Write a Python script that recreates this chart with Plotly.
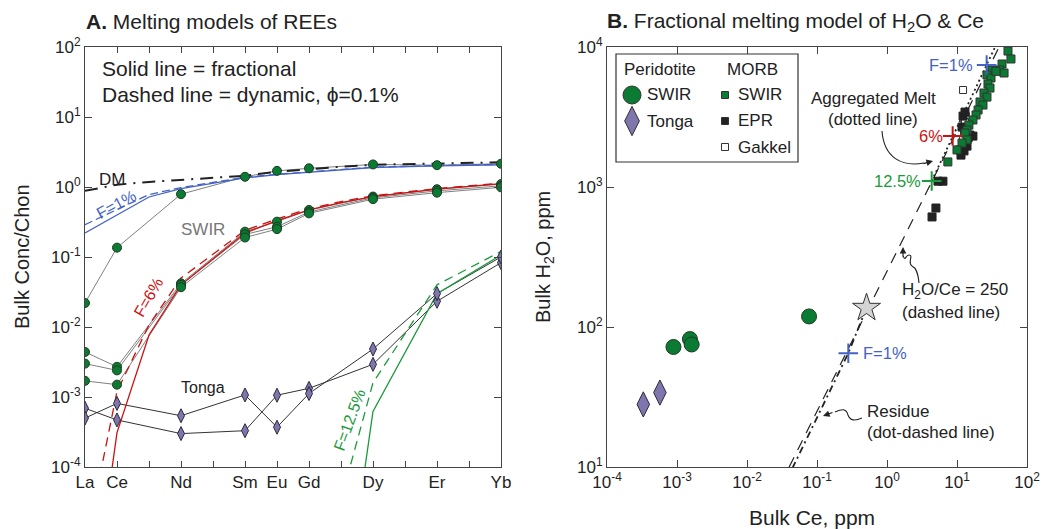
import plotly.graph_objects as go

# ---------------- Panel A data ----------------
ree_labels = ["La", "Ce", "Nd", "Sm", "Eu", "Gd", "Dy", "Er", "Yb"]
ree_z = [57, 58, 60, 62, 63, 64, 66, 68, 70]
all_z = list(range(57, 71))
all_lab = ["La", "Ce", "", "Nd", "", "Sm", "Eu", "Gd", "", "Dy", "", "Er", "", "Yb"]
model_z = [57, 58, 59, 60, 62, 63, 64, 65, 66, 68, 70]

dm_line = [0.88, 1.08, 1.18, 1.26, 1.45, 1.65, 1.8, 1.95, 2.08, 2.18, 2.25]
f1_frac = [0.22, 0.40, 0.72, 0.95, 1.35, 1.5, 1.62, 1.75, 1.9, 2.0, 2.08]
f1_dyn = [0.29, 0.48, 0.78, 0.98, 1.38, 1.52, 1.64, 1.77, 1.92, 2.02, 2.1]
f6_frac = [1.6e-7, 3.1e-4, 7.7e-3, 0.040, 0.22, 0.33, 0.47, 0.60, 0.73, 0.93, 1.12]
f6_dyn = [6.7e-6, 1.2e-3, 1.07e-2, 0.050, 0.24, 0.35, 0.49, 0.62, 0.75, 0.95, 1.14]
f125_frac = [1e-12, 1e-12, 1e-12, 1e-12, 1e-11, 1e-10, 1e-9, 4e-7, 6.2e-4, 0.030, 0.107]
f125_dyn = [1e-12, 1e-12, 1e-12, 1e-12, 1e-10, 1e-9, 1e-8, 3.4e-5, 1.6e-3, 0.040, 0.12]

swir_pd = [
    [0.022, 0.136, 0.79, 1.40, 1.70, 1.85, 2.10, 2.05, 2.15],
    [4.4e-3, 2.7e-3, 0.042, 0.23, 0.32, 0.47, 0.73, 0.93, 1.10],
    [3.0e-3, 2.4e-3, 0.040, 0.21, 0.27, 0.44, 0.70, 0.88, 1.04],
    [1.7e-3, 1.5e-3, 0.037, 0.19, 0.25, 0.42, 0.67, 0.83, 0.99],
]
tonga_pd = [
    [6.9e-4, 4.7e-4, 3.0e-4, 3.3e-4, 1.06e-3, 1.33e-3, 2.93e-3, 0.0233, 0.083],
    [5.0e-4, 8.1e-4, 5.4e-4, 1.07e-3, 3.7e-4, 1.12e-3, 4.85e-3, 0.030, 0.10],
]

# ---------------- Panel B data ----------------
swir_per_ce = [8.9e-4, 1.53e-3, 1.62e-3, 0.077]
swir_per_h2o = [72, 82, 75, 119]
tonga_per_ce = [3.3e-4, 5.7e-4]
tonga_per_h2o = [28, 34]
source_ce = [0.51]
source_h2o = [137]

ratio_ce = [0.04, 40]
ratio_h2o = [10, 10000]
agg_ce = [4.35, 8.67, 26.5, 40]
agg_h2o = [1104, 2311, 7440, 11500]
res_ce = [0.51, 0.28, 0.0454, 0.02]
res_h2o = [137, 65, 10, 4.3]

agg_f1 = ([26.5], [7440])
agg_f6 = ([8.67], [2311])
agg_f125 = ([4.35], [1104])
res_f1 = ([0.28], [65])

morb_swir_ce = [53.5, 59, 44, 41, 47, 31.6, 26.8, 30.6, 27.7, 29.6, 24.3, 26.8, 21.3, 23.5,
                20, 18.7, 16.9, 14.8, 13.9, 13.0, 13.9, 11.8, 10, 7.4, 36]
morb_swir_h2o = [9360, 8210, 7560, 6850, 6520, 6850, 6310, 6010, 5440, 5090, 4690, 4390, 4050, 3850,
                 3550, 3270, 3010, 2770, 2550, 2430, 2170, 2060, 1840, 1510, 6700]
morb_epr_ce = [4.4, 5.0, 5.35, 6.3, 11.0, 12.6, 13.9, 16.9, 14.4, 12.2, 13.0, 11.8, 15.3, 11.4]
morb_epr_h2o = [611, 708, 1100, 1100, 1840, 1810, 1960, 2310, 2240, 3210, 3430, 2680, 2350, 1690]
morb_gak_ce = [12.2, 13.4, 13.0, 13.9, 12.6, 12.2, 13.4]
morb_gak_h2o = [4930, 3210, 2910, 2680, 2510, 2170, 1960]

# ---------------- styling ----------------
W, H = 1055, 529
FONT = "Liberation Sans, Arial, Helvetica, sans-serif"
TXT = "#222222"
AX = "#444444"
GREEN_PT = "#0b7a32"
PURPLE = "#7e76ad"
BLUE = "#4463c4"
RED = "#cc1111"
GREEN_LN = "#1a9a3a"


def px(x):
    return x / W


def py(y):
    return 1 - y / H


fig = go.Figure()

for s in swir_pd:
    fig.add_trace(go.Scatter(x=ree_z, y=s, mode="lines", line=dict(color="#808080", width=1),
                             xaxis="x", yaxis="y", showlegend=False))
for s in tonga_pd:
    fig.add_trace(go.Scatter(x=ree_z, y=s, mode="lines", line=dict(color="#333333", width=1),
                             xaxis="x", yaxis="y", showlegend=False))


def model(vals, color, dash, width=1.3):
    fig.add_trace(go.Scatter(x=model_z, y=vals, mode="lines",
                             line=dict(color=color, width=width, dash=dash),
                             xaxis="x", yaxis="y", showlegend=False))


model(f1_dyn, BLUE, "8px,4px")
model(f1_frac, BLUE, "solid")
model(f6_dyn, RED, "9px,6px")
model(f6_frac, RED, "solid")
model(f125_dyn, GREEN_LN, "9px,6px")
model(f125_frac, GREEN_LN, "solid")
model(dm_line, "#222222", "13px,7px,2px,7px", 2)

for s in swir_pd:
    fig.add_trace(go.Scatter(x=ree_z, y=s, mode="markers",
                             marker=dict(color=GREEN_PT, size=9, line=dict(color="#1d3b22", width=1)),
                             xaxis="x", yaxis="y", showlegend=False))
for s in tonga_pd:
    fig.add_trace(go.Scatter(x=ree_z, y=s, mode="markers",
                             marker=dict(color=PURPLE, size=10, symbol="diamond-tall",
                                         line=dict(color="#2a2a3a", width=1)),
                             xaxis="x", yaxis="y", showlegend=False))

# --- panel B
fig.add_trace(go.Scatter(x=ratio_ce, y=ratio_h2o, mode="lines",
                         line=dict(color="#222222", width=1.2, dash="11px,8px"),
                         xaxis="x2", yaxis="y2", showlegend=False))
fig.add_trace(go.Scatter(x=agg_ce, y=agg_h2o, mode="lines",
                         line=dict(color="#222222", width=1.8, dash="2px,3px"),
                         xaxis="x2", yaxis="y2", showlegend=False))
fig.add_trace(go.Scatter(x=res_ce, y=res_h2o, mode="lines",
                         line=dict(color="#222222", width=1.8, dash="7px,4px,2px,4px"),
                         xaxis="x2", yaxis="y2", showlegend=False))

fig.add_trace(go.Scatter(x=morb_gak_ce, y=morb_gak_h2o, mode="markers",
                         marker=dict(color="white", size=7, symbol="square", line=dict(color="#333", width=1)),
                         xaxis="x2", yaxis="y2", showlegend=False))
fig.add_trace(go.Scatter(x=morb_epr_ce, y=morb_epr_h2o, mode="markers",
                         marker=dict(color="#222222", size=8, symbol="square", line=dict(color="#222", width=1)),
                         xaxis="x2", yaxis="y2", showlegend=False))
fig.add_trace(go.Scatter(x=morb_swir_ce, y=morb_swir_h2o, mode="markers",
                         marker=dict(color=GREEN_PT, size=8, symbol="square", line=dict(color="#333", width=1)),
                         xaxis="x2", yaxis="y2", showlegend=False))

fig.add_trace(go.Scatter(x=swir_per_ce, y=swir_per_h2o, mode="markers",
                         marker=dict(color=GREEN_PT, size=15, line=dict(color="#1d3b22", width=1)),
                         xaxis="x2", yaxis="y2", showlegend=False))
fig.add_trace(go.Scatter(x=tonga_per_ce, y=tonga_per_h2o, mode="markers",
                         marker=dict(color=PURPLE, size=18, symbol="diamond-tall", line=dict(color="#2a2a3a", width=1)),
                         xaxis="x2", yaxis="y2", showlegend=False))
fig.add_trace(go.Scatter(x=source_ce, y=source_h2o, mode="markers",
                         marker=dict(color="#d4d4d4", size=21, symbol="star", line=dict(color="#333", width=1)),
                         xaxis="x2", yaxis="y2", showlegend=False))

for (cx, cy), col in [(agg_f1, BLUE), (agg_f6, RED), (agg_f125, GREEN_LN), (res_f1, BLUE)]:
    fig.add_trace(go.Scatter(x=cx, y=cy, mode="markers",
                             marker=dict(symbol="cross-thin", size=14, line=dict(color=col, width=2)),
                             xaxis="x2", yaxis="y2", showlegend=False))

legend_glyphs = [
    (632, 95, "circle", 18, GREEN_PT),
    (632, 121, "diamond-tall", 21, PURPLE),
    (725, 95, "square", 7, GREEN_PT),
    (725, 121, "square", 7, "#222222"),
    (725, 147, "square", 7, "white"),
]
for gx, gy, sym, sz, col in legend_glyphs:
    fig.add_trace(go.Scatter(x=[gx], y=[gy], mode="markers",
                             marker=dict(color=col, size=sz, symbol=sym, line=dict(color="#333", width=1)),
                             xaxis="x3", yaxis="y3", showlegend=False, cliponaxis=False))


def decades(lo, hi):
    return [10.0 ** e for e in range(lo, hi + 1)], [f"10<sup>{e}</sup>" for e in range(lo, hi + 1)]


def minors(lo, hi):
    return [k * 10.0 ** e for e in range(lo, hi) for k in range(2, 10)]


common = dict(showline=True, linecolor=AX, linewidth=1, mirror="ticks", ticks="inside",
              tickcolor=AX, ticklen=7, showgrid=False, zeroline=False, automargin=False,
              tickfont=dict(family=FONT, size=17, color=TXT))
minor_ax = dict(showline=False, mirror="ticks", ticks="inside", tickcolor=AX, ticklen=3.5,
                showgrid=False, zeroline=False, automargin=False, showticklabels=False,
                tickmode="array", type="log")

ya_v, ya_t = decades(-4, 2)
xb_v, xb_t = decades(-4, 2)
yb_v, yb_t = decades(1, 4)

fig.update_layout(
    width=W, height=H, margin=dict(l=0, r=0, t=0, b=0, pad=0, autoexpand=False),
    paper_bgcolor="white", plot_bgcolor="rgba(0,0,0,0)",
    font=dict(family=FONT, color=TXT),
    xaxis=dict(domain=[px(85), px(501)], range=[57, 70], tickmode="array",
               tickvals=all_z, ticktext=all_lab, anchor="y",
               **{**common, "ticklen": 6}),
    yaxis=dict(domain=[py(467), py(47)], type="log", range=[-4, 2], tickmode="array",
               tickvals=ya_v, ticktext=ya_t, anchor="x", **common),
    xaxis2=dict(domain=[px(607), px(1027)], type="log", range=[-4, 2], tickmode="array",
                tickvals=xb_v, ticktext=xb_t, anchor="y2", **common),
    yaxis2=dict(domain=[py(467), py(47)], type="log", range=[1, 4], tickmode="array",
                tickvals=yb_v, ticktext=yb_t, anchor="x2", **common),
    xaxis3=dict(domain=[0, 1], range=[0, W], visible=False, anchor="y3", automargin=False),
    yaxis3=dict(domain=[0, 1], range=[H, 0], visible=False, anchor="x3", automargin=False),
    yaxis4=dict(overlaying="y", anchor="x", side="left", range=[-4, 2],
                tickvals=minors(-4, 2), **minor_ax),
    xaxis5=dict(overlaying="x2", anchor="y2", side="bottom", range=[-4, 2],
                tickvals=minors(-4, 2), **minor_ax),
    yaxis6=dict(overlaying="y2", anchor="x2", side="left", range=[1, 4],
                tickvals=minors(1, 4), **minor_ax),
)

ann = []


def text(x, y, s, size=17, color=TXT, xanchor="center", angle=0):
    ann.append(dict(x=px(x), y=py(y), xref="paper", yref="paper", text=s, showarrow=False,
                    xanchor=xanchor, yanchor="middle", textangle=angle,
                    font=dict(family=FONT, size=size, color=color)))


text(84, 22, "<b>A.</b> Melting models of REEs", 21, xanchor="left")
text(605, 22, "<b>B.</b> Fractional melting model of H<sub>2</sub>O &amp; Ce", 21, xanchor="left")
text(100, 68, "Solid line = fractional", 21, xanchor="left")
text(100, 94, "Dashed line = dynamic, ϕ=0.1%", 21, xanchor="left")
text(22, 257, "Bulk Conc/Chon", 20, angle=-90)
text(544, 257, "Bulk H<sub>2</sub>O, ppm", 20, angle=-90)
text(812, 517, "Bulk Ce, ppm", 21)

text(112, 180, "DM", 17)
text(116, 204, "F=1%", 16, BLUE, angle=-28)
text(203, 229, "SWIR", 17, "#777777")
text(148, 297, "F=6%", 16, RED, angle=-60)
text(203, 387, "Tonga", 16)
text(349, 420, "F=12.5%", 16, GREEN_LN, angle=-70)

text(660, 69, "Peridotite", 17)
text(752, 69, "MORB", 17)
text(645, 95, "SWIR", 17, xanchor="left")
text(645, 122, "Tonga", 17, xanchor="left")
text(736, 95, "SWIR", 17, xanchor="left")
text(736, 121, "EPR", 17, xanchor="left")
text(736, 147, "Gakkel", 17, xanchor="left")

text(975, 65, "F=1%", 16.5, BLUE, xanchor="right")
text(945, 136, "6%", 16.5, RED, xanchor="right")
text(923, 181, "12.5%", 16.5, GREEN_LN, xanchor="right")
text(861, 353, "F=1%", 16.5, BLUE, xanchor="left")
text(873, 98, "Aggregated Melt", 17)
text(873, 119, "(dotted line)", 17)
text(900, 291, "H<sub>2</sub>O/Ce = 250", 17, xanchor="left")
text(900, 312, "(dashed line)", 17, xanchor="left")
text(865, 411, "Residue", 17, xanchor="left")
text(865, 432, "(dot-dashed line)", 17, xanchor="left")


def arrow(x, y, ax, ay):
    ann.append(dict(x=x, y=y, ax=ax, ay=ay, xref="x3", yref="y3", axref="x3", ayref="y3",
                    text="", showarrow=True, arrowhead=2, arrowsize=1.1, arrowwidth=1.2,
                    arrowcolor="#222"))


arrow(933, 161, 922, 164)
arrow(903, 247, 903, 258)
arrow(823, 416, 834, 412)

fig.update_layout(annotations=ann)

shapes = [
    dict(type="rect", xref="x3", yref="y3", x0=616, y0=54, x1=798, y1=162,
         line=dict(color="#333", width=1.2), fillcolor="rgba(0,0,0,0)", layer="below"),
    dict(type="path", xref="x3", yref="y3",
         path="M 882,131 C 884,158 902,167 924,163", line=dict(color="#222", width=1.1)),
    dict(type="path", xref="x3", yref="y3",
         path="M 919,283 C 918,272 916,268 912,266 C 907,263 914,255 909,255 C 905,255 906,262 903,256",
         line=dict(color="#222", width=1.1)),
    dict(type="path", xref="x3", yref="y3",
         path="M 862,418 C 855,421 850,421 848,415 C 846,408 842,409 835,412",
         line=dict(color="#222", width=1.1)),
]
fig.update_layout(shapes=shapes)

fig.write_html("out.html")
